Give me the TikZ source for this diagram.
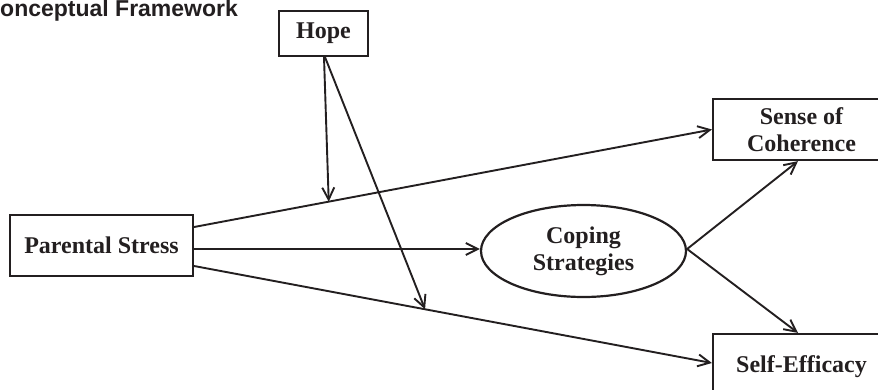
\documentclass[tikz,border=0pt]{standalone}
\usepackage{fontspec}
\setmainfont{Liberation Serif}
\newfontfamily\titlefont{Liberation Sans}
\usetikzlibrary{arrows.meta,shapes.geometric}
\definecolor{ink}{HTML}{231F20}
\begin{document}
\begin{tikzpicture}[x=1pt,y=-1pt,
  box/.style={draw=ink,line width=2.2pt,rectangle,inner sep=0pt,align=center,
    font=\fontsize{24}{27}\selectfont\bfseries,text=ink},
  oval/.style={draw=ink,line width=2.2pt,ellipse,inner sep=0pt,align=center,
    font=\fontsize{24}{27}\selectfont\bfseries,text=ink},
  arr/.style={draw=ink,line width=1.9pt,-{Straight Barb[length=12pt,width=12pt,line width=1.9pt]}},
  plain/.style={draw=ink,line width=1.9pt}]
\useasboundingbox (0,0) rectangle (878,389);
\clip (0,0) rectangle (878,389);
\node[anchor=base west,inner sep=0pt,font=\fontsize{23}{26}\selectfont\titlefont\bfseries,text=ink] (title) at (0,16.5) {onceptual Framework};
\node[box,minimum width=89pt,minimum height=45pt] (hope) at (323.5,33.5) {Hope};
\node[box,minimum width=183pt,minimum height=61pt] (ps) at (101.5,245.5) {Parental Stress};
\node[box,minimum width=177pt,minimum height=61pt] (soc) at (801.5,129.5) {Sense of\\Coherence};
\node[oval,minimum width=205pt,minimum height=92pt] (cs) at (583.5,251) {Coping\\Strategies};
\node[box,minimum width=177pt,minimum height=66pt] (se) at (801.5,367) {\raisebox{3pt}{Self-Efficacy}};
% main paths
\draw[arr] ([yshift=18.5pt]ps.east) -- coordinate[pos=0.26] (m1) (soc.west);
\draw[arr] ([yshift=-3.5pt]ps.east) -- ([yshift=-3.5pt]ps.east -| cs.west);
\draw[arr] ([yshift=-20.5pt]ps.east) -- coordinate[pos=0.446] (m2) ([yshift=4pt]se.west);
\draw[arr] ([yshift=2pt]cs.east) -- ([xshift=-3.5pt]soc.south);
\draw[arr] ([yshift=2pt]cs.east) -- ([xshift=-3.5pt]se.north);
% moderation arrows
\draw[arr] ([xshift=0.5pt]hope.south) -- (m1);
\draw[arr] ([xshift=1.5pt]hope.south) -- (m2);
\end{tikzpicture}
\end{document}
